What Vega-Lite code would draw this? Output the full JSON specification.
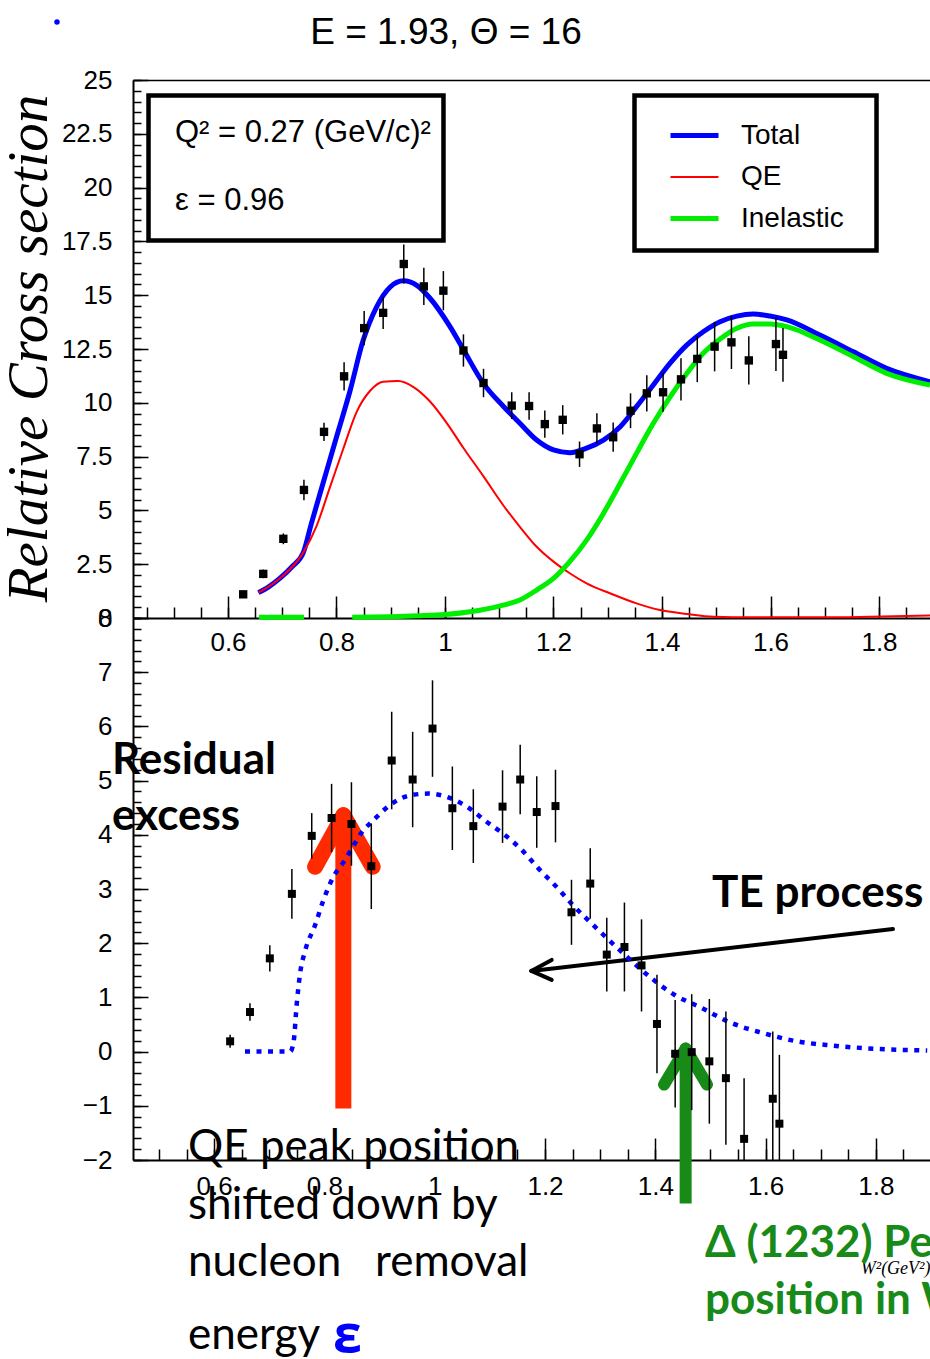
{
  "$schema": "https://vega.github.io/schema/vega-lite/v6.json",
  "width": 797,
  "height": 1080,
  "autosize": {"type": "none"},
  "padding": {"left": 133, "top": 80, "right": 0, "bottom": 199},
  "background": "white",
  "config": {
    "view": {"stroke": null},
    "axis": {"domainColor": "black", "tickColor": "black", "tickWidth": 1.5, "labelColor": "black", "labelFont": "Liberation Sans, Arial, sans-serif", "labelFontSize": 26, "grid": false, "titleColor": "black", "labelFlush": false, "labelOverlap": false}
  },
  "datasets": {
    "topPoints": [
      {"x": 0.628, "y": 1.10, "lo": 0.95, "hi": 1.25},
      {"x": 0.665, "y": 2.05, "lo": 1.85, "hi": 2.25},
      {"x": 0.702, "y": 3.68, "lo": 3.43, "hi": 3.93},
      {"x": 0.740, "y": 5.95, "lo": 5.47, "hi": 6.43},
      {"x": 0.777, "y": 8.65, "lo": 8.23, "hi": 9.07},
      {"x": 0.814, "y": 11.23, "lo": 10.57, "hi": 11.89},
      {"x": 0.851, "y": 13.47, "lo": 12.68, "hi": 14.26},
      {"x": 0.886, "y": 14.18, "lo": 13.43, "hi": 14.93},
      {"x": 0.924, "y": 16.45, "lo": 15.54, "hi": 17.36},
      {"x": 0.961, "y": 15.41, "lo": 14.54, "hi": 16.28},
      {"x": 0.997, "y": 15.21, "lo": 14.30, "hi": 16.12},
      {"x": 1.034, "y": 12.43, "lo": 11.68, "hi": 13.18},
      {"x": 1.071, "y": 10.92, "lo": 10.26, "hi": 11.58},
      {"x": 1.123, "y": 9.87, "lo": 9.25, "hi": 10.49},
      {"x": 1.155, "y": 9.85, "lo": 9.21, "hi": 10.49},
      {"x": 1.184, "y": 9.01, "lo": 8.38, "hi": 9.64},
      {"x": 1.217, "y": 9.21, "lo": 8.53, "hi": 9.89},
      {"x": 1.248, "y": 7.61, "lo": 7.02, "hi": 8.20},
      {"x": 1.280, "y": 8.81, "lo": 8.11, "hi": 9.51},
      {"x": 1.310, "y": 8.40, "lo": 7.72, "hi": 9.08},
      {"x": 1.342, "y": 9.63, "lo": 8.82, "hi": 10.44},
      {"x": 1.372, "y": 10.44, "lo": 9.60, "hi": 11.28},
      {"x": 1.402, "y": 10.49, "lo": 9.58, "hi": 11.40},
      {"x": 1.435, "y": 11.09, "lo": 10.11, "hi": 12.07},
      {"x": 1.465, "y": 12.04, "lo": 10.96, "hi": 13.12},
      {"x": 1.497, "y": 12.61, "lo": 11.46, "hi": 13.76},
      {"x": 1.528, "y": 12.81, "lo": 11.57, "hi": 14.05},
      {"x": 1.560, "y": 11.97, "lo": 10.85, "hi": 13.09},
      {"x": 1.610, "y": 12.73, "lo": 11.48, "hi": 13.98},
      {"x": 1.623, "y": 12.23, "lo": 10.98, "hi": 13.48}
    ],
    "topCurves": [
      {"series": "Total", "seg": "a", "x": 0.656, "y": 1.18},
      {"series": "Total", "seg": "a", "x": 0.675, "y": 1.45},
      {"series": "Total", "seg": "a", "x": 0.696, "y": 1.85},
      {"series": "Total", "seg": "a", "x": 0.718, "y": 2.38},
      {"series": "Total", "seg": "a", "x": 0.739, "y": 3.05},
      {"series": "Total", "seg": "a", "x": 0.754, "y": 4.42},
      {"series": "Total", "seg": "a", "x": 0.776, "y": 6.33},
      {"series": "Total", "seg": "a", "x": 0.800, "y": 8.41},
      {"series": "Total", "seg": "a", "x": 0.825, "y": 10.56},
      {"series": "Total", "seg": "a", "x": 0.849, "y": 12.89},
      {"series": "Total", "seg": "a", "x": 0.874, "y": 14.46},
      {"series": "Total", "seg": "a", "x": 0.899, "y": 15.38},
      {"series": "Total", "seg": "a", "x": 0.923, "y": 15.67},
      {"series": "Total", "seg": "a", "x": 0.948, "y": 15.46},
      {"series": "Total", "seg": "a", "x": 0.972, "y": 14.87},
      {"series": "Total", "seg": "a", "x": 1.009, "y": 13.55},
      {"series": "Total", "seg": "a", "x": 1.034, "y": 12.47},
      {"series": "Total", "seg": "a", "x": 1.071, "y": 10.89},
      {"series": "Total", "seg": "a", "x": 1.107, "y": 9.85},
      {"series": "Total", "seg": "a", "x": 1.138, "y": 9.05},
      {"series": "Total", "seg": "a", "x": 1.169, "y": 8.27},
      {"series": "Total", "seg": "a", "x": 1.200, "y": 7.81},
      {"series": "Total", "seg": "a", "x": 1.230, "y": 7.68},
      {"series": "Total", "seg": "a", "x": 1.261, "y": 7.89},
      {"series": "Total", "seg": "a", "x": 1.292, "y": 8.27},
      {"series": "Total", "seg": "a", "x": 1.323, "y": 8.89},
      {"series": "Total", "seg": "a", "x": 1.353, "y": 9.82},
      {"series": "Total", "seg": "a", "x": 1.384, "y": 10.83},
      {"series": "Total", "seg": "a", "x": 1.415, "y": 11.84},
      {"series": "Total", "seg": "a", "x": 1.446, "y": 12.69},
      {"series": "Total", "seg": "a", "x": 1.476, "y": 13.30},
      {"series": "Total", "seg": "a", "x": 1.507, "y": 13.77},
      {"series": "Total", "seg": "a", "x": 1.538, "y": 14.03},
      {"series": "Total", "seg": "a", "x": 1.568, "y": 14.13},
      {"series": "Total", "seg": "a", "x": 1.599, "y": 14.03},
      {"series": "Total", "seg": "a", "x": 1.630, "y": 13.85},
      {"series": "Total", "seg": "a", "x": 1.691, "y": 13.15},
      {"series": "Total", "seg": "a", "x": 1.753, "y": 12.37},
      {"series": "Total", "seg": "a", "x": 1.814, "y": 11.60},
      {"series": "Total", "seg": "a", "x": 1.894, "y": 10.98},
      {"series": "QE", "seg": "a", "x": 0.656, "y": 1.18},
      {"series": "QE", "seg": "a", "x": 0.696, "y": 1.85},
      {"series": "QE", "seg": "a", "x": 0.739, "y": 3.05},
      {"series": "QE", "seg": "a", "x": 0.763, "y": 4.26},
      {"series": "QE", "seg": "a", "x": 0.788, "y": 6.08},
      {"series": "QE", "seg": "a", "x": 0.813, "y": 7.90},
      {"series": "QE", "seg": "a", "x": 0.837, "y": 9.57},
      {"series": "QE", "seg": "a", "x": 0.862, "y": 10.56},
      {"series": "QE", "seg": "a", "x": 0.886, "y": 10.98},
      {"series": "QE", "seg": "a", "x": 0.914, "y": 11.01},
      {"series": "QE", "seg": "a", "x": 0.942, "y": 10.73},
      {"series": "QE", "seg": "a", "x": 0.972, "y": 10.07},
      {"series": "QE", "seg": "a", "x": 1.003, "y": 9.07},
      {"series": "QE", "seg": "a", "x": 1.034, "y": 7.90},
      {"series": "QE", "seg": "a", "x": 1.071, "y": 6.58},
      {"series": "QE", "seg": "a", "x": 1.107, "y": 5.25},
      {"series": "QE", "seg": "a", "x": 1.138, "y": 4.24},
      {"series": "QE", "seg": "a", "x": 1.169, "y": 3.31},
      {"series": "QE", "seg": "a", "x": 1.200, "y": 2.62},
      {"series": "QE", "seg": "a", "x": 1.230, "y": 2.08},
      {"series": "QE", "seg": "a", "x": 1.261, "y": 1.61},
      {"series": "QE", "seg": "a", "x": 1.304, "y": 1.15},
      {"series": "QE", "seg": "a", "x": 1.353, "y": 0.68},
      {"series": "QE", "seg": "a", "x": 1.396, "y": 0.37},
      {"series": "QE", "seg": "a", "x": 1.446, "y": 0.19},
      {"series": "QE", "seg": "a", "x": 1.495, "y": 0.06},
      {"series": "QE", "seg": "a", "x": 1.568, "y": 0.03},
      {"series": "QE", "seg": "a", "x": 1.691, "y": 0.03},
      {"series": "QE", "seg": "a", "x": 1.783, "y": 0.06},
      {"series": "QE", "seg": "a", "x": 1.894, "y": 0.12},
      {"series": "Inelastic", "seg": "a", "x": 0.657, "y": 0.03},
      {"series": "Inelastic", "seg": "a", "x": 0.740, "y": 0.03},
      {"series": "Inelastic", "seg": "b", "x": 0.829, "y": 0.03},
      {"series": "Inelastic", "seg": "b", "x": 0.900, "y": 0.06},
      {"series": "Inelastic", "seg": "b", "x": 0.950, "y": 0.10},
      {"series": "Inelastic", "seg": "b", "x": 1.000, "y": 0.16},
      {"series": "Inelastic", "seg": "b", "x": 1.050, "y": 0.30},
      {"series": "Inelastic", "seg": "b", "x": 1.100, "y": 0.55},
      {"series": "Inelastic", "seg": "b", "x": 1.138, "y": 0.84},
      {"series": "Inelastic", "seg": "b", "x": 1.169, "y": 1.30},
      {"series": "Inelastic", "seg": "b", "x": 1.200, "y": 1.84},
      {"series": "Inelastic", "seg": "b", "x": 1.230, "y": 2.62},
      {"series": "Inelastic", "seg": "b", "x": 1.261, "y": 3.62},
      {"series": "Inelastic", "seg": "b", "x": 1.292, "y": 4.86},
      {"series": "Inelastic", "seg": "b", "x": 1.323, "y": 6.26},
      {"series": "Inelastic", "seg": "b", "x": 1.353, "y": 7.65},
      {"series": "Inelastic", "seg": "b", "x": 1.384, "y": 9.05},
      {"series": "Inelastic", "seg": "b", "x": 1.415, "y": 10.28},
      {"series": "Inelastic", "seg": "b", "x": 1.446, "y": 11.37},
      {"series": "Inelastic", "seg": "b", "x": 1.476, "y": 12.30},
      {"series": "Inelastic", "seg": "b", "x": 1.507, "y": 12.96},
      {"series": "Inelastic", "seg": "b", "x": 1.538, "y": 13.46},
      {"series": "Inelastic", "seg": "b", "x": 1.568, "y": 13.66},
      {"series": "Inelastic", "seg": "b", "x": 1.599, "y": 13.66},
      {"series": "Inelastic", "seg": "b", "x": 1.630, "y": 13.54},
      {"series": "Inelastic", "seg": "b", "x": 1.691, "y": 12.92},
      {"series": "Inelastic", "seg": "b", "x": 1.753, "y": 12.14},
      {"series": "Inelastic", "seg": "b", "x": 1.814, "y": 11.37},
      {"series": "Inelastic", "seg": "b", "x": 1.894, "y": 10.83}
    ],
    "topBoxes": [
      {"box": "info", "x": 0.4535, "x2": 0.9972, "y": 24.28, "y2": 17.54},
      {"box": "legend", "x": 1.3493, "x2": 1.7954, "y": 24.28, "y2": 17.08}
    ],
    "topNotes": [
      {"kind": "title", "text": "E = 1.93, Θ = 16", "x": 1.0018, "y": 27.18},
      {"kind": "box", "text": "Q² = 0.27 (GeV/c)²", "x": 0.5023, "y": 22.54},
      {"kind": "box", "text": "ε = 0.96", "x": 0.5023, "y": 19.38},
      {"kind": "dot", "text": "", "x": 0.2848, "y": 27.70}
    ],
    "botPoints": [
      {"x": 0.629, "y": 0.19, "lo": 0.07, "hi": 0.31},
      {"x": 0.665, "y": 0.73, "lo": 0.57, "hi": 0.89},
      {"x": 0.701, "y": 1.72, "lo": 1.48, "hi": 1.96},
      {"x": 0.741, "y": 2.91, "lo": 2.45, "hi": 3.37},
      {"x": 0.777, "y": 3.98, "lo": 3.56, "hi": 4.40},
      {"x": 0.813, "y": 4.31, "lo": 3.68, "hi": 4.94},
      {"x": 0.849, "y": 4.20, "lo": 3.43, "hi": 4.97},
      {"x": 0.885, "y": 3.42, "lo": 2.63, "hi": 4.21},
      {"x": 0.922, "y": 5.37, "lo": 4.47, "hi": 6.27},
      {"x": 0.960, "y": 5.02, "lo": 4.14, "hi": 5.90},
      {"x": 0.996, "y": 5.96, "lo": 5.07, "hi": 6.85},
      {"x": 1.032, "y": 4.49, "lo": 3.72, "hi": 5.26},
      {"x": 1.070, "y": 4.16, "lo": 3.48, "hi": 4.84},
      {"x": 1.123, "y": 4.52, "lo": 3.85, "hi": 5.19},
      {"x": 1.155, "y": 5.02, "lo": 4.38, "hi": 5.66},
      {"x": 1.185, "y": 4.42, "lo": 3.76, "hi": 5.08},
      {"x": 1.219, "y": 4.53, "lo": 3.86, "hi": 5.20},
      {"x": 1.248, "y": 2.57, "lo": 1.97, "hi": 3.17},
      {"x": 1.282, "y": 3.10, "lo": 2.45, "hi": 3.75},
      {"x": 1.312, "y": 1.79, "lo": 1.11, "hi": 2.47},
      {"x": 1.344, "y": 1.93, "lo": 1.11, "hi": 2.75},
      {"x": 1.375, "y": 1.59, "lo": 0.74, "hi": 2.44},
      {"x": 1.403, "y": 0.51, "lo": -0.40, "hi": 1.42},
      {"x": 1.436, "y": -0.04, "lo": -1.03, "hi": 0.95},
      {"x": 1.466, "y": -0.01, "lo": -1.08, "hi": 1.06},
      {"x": 1.498, "y": -0.18, "lo": -1.33, "hi": 0.97},
      {"x": 1.528, "y": -0.49, "lo": -1.72, "hi": 0.74},
      {"x": 1.561, "y": -1.61, "lo": -2.0, "hi": -0.49},
      {"x": 1.613, "y": -0.87, "lo": -2.0, "hi": 0.37},
      {"x": 1.625, "y": -1.33, "lo": -2.0, "hi": -0.06}
    ],
    "botCurve": [
      {"x": 0.656, "y": 0}, {"x": 0.700, "y": 0}, {"x": 0.738, "y": 0},
      {"x": 0.744, "y": 0.17}, {"x": 0.750, "y": 0.90}, {"x": 0.756, "y": 1.45},
      {"x": 0.765, "y": 1.86}, {"x": 0.783, "y": 2.33}, {"x": 0.798, "y": 2.79},
      {"x": 0.816, "y": 3.22}, {"x": 0.835, "y": 3.50}, {"x": 0.850, "y": 3.75},
      {"x": 0.868, "y": 4.05}, {"x": 0.888, "y": 4.26}, {"x": 0.919, "y": 4.55},
      {"x": 0.956, "y": 4.73}, {"x": 0.989, "y": 4.76}, {"x": 1.022, "y": 4.70},
      {"x": 1.058, "y": 4.52}, {"x": 1.094, "y": 4.24}, {"x": 1.124, "y": 4.02},
      {"x": 1.158, "y": 3.72}, {"x": 1.188, "y": 3.38}, {"x": 1.218, "y": 3.07},
      {"x": 1.248, "y": 2.73}, {"x": 1.294, "y": 2.27}, {"x": 1.342, "y": 1.81},
      {"x": 1.391, "y": 1.37}, {"x": 1.436, "y": 1.04}, {"x": 1.481, "y": 0.82},
      {"x": 1.535, "y": 0.54}, {"x": 1.596, "y": 0.34}, {"x": 1.651, "y": 0.20},
      {"x": 1.723, "y": 0.11}, {"x": 1.802, "y": 0.05}, {"x": 1.893, "y": 0.02}
    ],
    "arrows": [
      {"arrow": "red", "part": "shaft", "x": 0.8343, "y": -1.052, "x2": 0.8343, "y2": 4.2},
      {"arrow": "red", "part": "arm", "x": 0.8343, "y": 4.36, "x2": 0.783, "y2": 3.41},
      {"arrow": "red", "part": "arm", "x": 0.8343, "y": 4.36, "x2": 0.8875, "y2": 3.41},
      {"arrow": "green", "part": "shaft", "x": 1.455, "y": -2.804, "x2": 1.455, "y2": 0.0},
      {"arrow": "green", "part": "arm", "x": 1.455, "y": 0.055, "x2": 1.4158, "y2": -0.609},
      {"arrow": "green", "part": "arm", "x": 1.455, "y": 0.055, "x2": 1.4937, "y2": -0.609},
      {"arrow": "black", "part": "shaft", "x": 1.831, "y": 2.26, "x2": 1.1752, "y2": 1.489},
      {"arrow": "black", "part": "arm", "x": 1.1752, "y": 1.489, "x2": 1.2121, "y2": 1.692},
      {"arrow": "black", "part": "arm", "x": 1.1752, "y": 1.489, "x2": 1.2121, "y2": 1.323}
    ],
    "botNotes": [
      {"kind": "bold", "text": "Residual", "x": 0.4149, "y": 5.37},
      {"kind": "bold", "text": "excess", "x": 0.4149, "y": 4.32},
      {"kind": "bold", "text": "TE process", "x": 1.5028, "y": 2.915},
      {"kind": "plain", "text": "QE peak position", "x": 0.5527, "y": -1.771},
      {"kind": "plain", "text": "shifted down by", "x": 0.5527, "y": -2.841},
      {"kind": "plain", "text": "nucleon\u00a0\u00a0\u00a0removal", "x": 0.5527, "y": -3.893},
      {"kind": "plain", "text": "energy", "x": 0.5527, "y": -5.24},
      {"kind": "eps", "text": "ε", "x": 0.8156, "y": -5.24},
      {"kind": "green", "text": "Δ (1232) Peak", "x": 1.4901, "y": -3.542},
      {"kind": "green", "text": "position in W", "x": 1.4901, "y": -4.594}
    ]
  },
  "layer": [
    {
      "encoding": {
        "x": {"field": "x", "type": "quantitative", "scale": {"domain": [0.4249, 1.894], "nice": false, "zero": false}, "axis": null},
        "y": {"field": "y", "type": "quantitative", "scale": {"domain": [0, 25], "range": [538, 0], "nice": false, "zero": false}, "axis": null}
      },
      "layer": [
        {
          "data": {"name": "topBoxes"},
          "mark": {"type": "rect", "fill": "white", "stroke": "black", "strokeWidth": 4.5},
          "encoding": {"x2": {"field": "x2"}, "y2": {"field": "y2"}}
        },
        {
          "data": {"name": "topCurves"},
          "mark": {"type": "line", "interpolate": "monotone"},
          "encoding": {
            "x": {"field": "x", "type": "quantitative", "scale": {"domain": [0.4249, 1.894], "nice": false, "zero": false},
              "axis": {"orient": "bottom", "offset": -542, "values": [0.6, 0.8, 1, 1.2, 1.4, 1.6, 1.8], "format": ".2~g", "tickSize": -22, "labelPadding": 33, "title": null, "domainWidth": 2}},
            "y": {"field": "y", "type": "quantitative", "scale": {"domain": [0, 25], "range": [538, 0], "nice": false, "zero": false},
              "axis": {"orient": "left", "values": [0, 2.5, 5, 7.5, 10, 12.5, 15, 17.5, 20, 22.5, 25], "format": ".3~g", "tickSize": -15, "labelPadding": 36, "domainWidth": 2,
                "title": "Relative Cross section", "titleFont": "Liberation Serif", "titleFontStyle": "italic", "titleFontWeight": "normal", "titleFontSize": 57, "titleX": -87, "titleY": 268, "titleAngle": 270, "titleAlign": "center", "titleBaseline": "alphabetic"}},
            "color": {"field": "series", "type": "nominal", "scale": {"domain": ["Total", "QE", "Inelastic"], "range": ["#0000ff", "#ff0000", "#00ee00"]},
              "legend": {"orient": "none", "legendX": 547, "legendY": 41, "title": null, "symbolType": "M-2,0H2", "symbolSize": 576, "symbolFillColor": "transparent", "labelFont": "Liberation Sans, Arial, sans-serif", "labelFontSize": 28, "labelColor": "black", "labelOffset": 32, "rowPadding": 13, "padding": 0}},
            "strokeWidth": {"field": "series", "type": "nominal", "scale": {"type": "ordinal", "domain": ["Total", "QE", "Inelastic"], "range": [5, 2, 5]},
              "legend": {"orient": "none", "legendX": 547, "legendY": 41, "title": null, "symbolType": "M-2,0H2", "symbolSize": 576, "symbolFillColor": "transparent", "labelFont": "Liberation Sans, Arial, sans-serif", "labelFontSize": 28, "labelColor": "black", "labelOffset": 32, "rowPadding": 13, "padding": 0}},
            "detail": {"field": "seg"}
          }
        },
        {
          "data": {"name": "topPoints"},
          "mark": {"type": "rule", "color": "black", "strokeWidth": 1.5},
          "encoding": {
            "x": {"field": "x", "type": "quantitative", "scale": {"domain": [0.4249, 1.894], "nice": false, "zero": false},
              "axis": {"orient": "bottom", "offset": -542, "values": [0.45, 0.5, 0.55, 0.6, 0.65, 0.7, 0.75, 0.8, 0.85, 0.9, 0.95, 1, 1.05, 1.1, 1.15, 1.2, 1.25, 1.3, 1.35, 1.4, 1.45, 1.5, 1.55, 1.6, 1.65, 1.7, 1.75, 1.8, 1.85], "tickSize": -11, "labels": false, "domain": false, "title": null}},
            "y": {"field": "lo", "type": "quantitative", "scale": {"domain": [0, 25], "range": [538, 0], "nice": false, "zero": false},
              "axis": {"orient": "left", "values": [0, 0.5, 1, 1.5, 2, 2.5, 3, 3.5, 4, 4.5, 5, 5.5, 6, 6.5, 7, 7.5, 8, 8.5, 9, 9.5, 10, 10.5, 11, 11.5, 12, 12.5, 13, 13.5, 14, 14.5, 15, 15.5, 16, 16.5, 17, 17.5, 18, 18.5, 19, 19.5, 20, 20.5, 21, 21.5, 22, 22.5, 23, 23.5, 24, 24.5, 25], "tickSize": -8, "labels": false, "domain": false, "title": null}},
            "y2": {"field": "hi"}
          }
        },
        {
          "data": {"name": "topPoints"},
          "mark": {"type": "square", "filled": true, "color": "black", "size": 70, "opacity": 1},
          "encoding": {
            "x": {"field": "x", "type": "quantitative", "scale": {"domain": [0.4249, 1.894], "nice": false, "zero": false},
              "axis": {"orient": "top", "ticks": false, "labels": false, "domain": true, "domainWidth": 1.5, "title": null}}
          }
        },
        {
          "data": {"name": "topNotes"},
          "transform": [{"filter": "datum.kind === 'title'"}],
          "mark": {"type": "text", "font": "Liberation Sans, Arial, sans-serif", "fontSize": 37, "align": "center", "baseline": "middle", "color": "black"},
          "encoding": {"text": {"field": "text"}}
        },
        {
          "data": {"name": "topNotes"},
          "transform": [{"filter": "datum.kind === 'box'"}],
          "mark": {"type": "text", "font": "Liberation Sans, Arial, sans-serif", "fontSize": 31, "align": "left", "baseline": "middle", "color": "black"},
          "encoding": {"text": {"field": "text"}}
        },
        {
          "data": {"name": "topNotes"},
          "transform": [{"filter": "datum.kind === 'dot'"}],
          "mark": {"type": "circle", "color": "#0000ff", "size": 30, "opacity": 1}
        }
      ],
      "resolve": {"axis": {"x": "independent", "y": "independent"}}
    },
    {
      "encoding": {
        "x": {"field": "x", "type": "quantitative", "scale": {"domain": [0.4529, 1.8981], "nice": false, "zero": false}, "axis": null},
        "y": {"field": "y", "type": "quantitative", "scale": {"domain": [-2, 8], "range": [1080, 538], "nice": false, "zero": false}, "axis": null}
      },
      "layer": [
        {
          "data": {"name": "arrows"},
          "transform": [{"filter": "datum.arrow === 'red' && datum.part === 'shaft'"}],
          "mark": {"type": "rule", "color": "#ff2a00", "strokeWidth": 16, "strokeCap": "butt"},
          "encoding": {"x2": {"field": "x2"}, "y2": {"field": "y2"}}
        },
        {
          "data": {"name": "arrows"},
          "transform": [{"filter": "datum.arrow === 'red' && datum.part === 'arm'"}],
          "mark": {"type": "rule", "color": "#ff2a00", "strokeWidth": 16, "strokeCap": "round"},
          "encoding": {"x2": {"field": "x2"}, "y2": {"field": "y2"}}
        },
        {
          "data": {"name": "arrows"},
          "transform": [{"filter": "datum.arrow === 'green' && datum.part === 'shaft'"}],
          "mark": {"type": "rule", "color": "#178a17", "strokeWidth": 12, "strokeCap": "butt"},
          "encoding": {"x2": {"field": "x2"}, "y2": {"field": "y2"}}
        },
        {
          "data": {"name": "arrows"},
          "transform": [{"filter": "datum.arrow === 'green' && datum.part === 'arm'"}],
          "mark": {"type": "rule", "color": "#178a17", "strokeWidth": 12, "strokeCap": "round"},
          "encoding": {"x2": {"field": "x2"}, "y2": {"field": "y2"}}
        },
        {
          "data": {"name": "arrows"},
          "transform": [{"filter": "datum.arrow === 'black'"}],
          "mark": {"type": "rule", "color": "black", "strokeWidth": 4, "strokeCap": "round"},
          "encoding": {"x2": {"field": "x2"}, "y2": {"field": "y2"}}
        },
        {
          "data": {"name": "botCurve"},
          "mark": {"type": "line", "color": "#0000ff", "strokeWidth": 4.5, "strokeDash": [5, 6.5], "interpolate": "monotone"},
          "encoding": {
            "x": {"field": "x", "type": "quantitative", "scale": {"domain": [0.4529, 1.8981], "nice": false, "zero": false},
              "axis": {"orient": "bottom", "values": [0.6, 0.8, 1, 1.2, 1.4, 1.6, 1.8], "format": ".2~g", "tickSize": -22, "labelPadding": 35, "domainWidth": 2,
                "title": "W²(GeV²)", "titleFont": "Liberation Serif", "titleFontStyle": "italic", "titleFontWeight": "normal", "titleFontSize": 18, "titleX": 797, "titleY": 108, "titleAlign": "right", "titleBaseline": "middle", "titleAngle": 0}},
            "y": {"field": "y", "type": "quantitative", "scale": {"domain": [-2, 8], "range": [1080, 538], "nice": false, "zero": false},
              "axis": {"orient": "left", "values": [-2, -1, 0, 1, 2, 3, 4, 5, 6, 7, 8], "format": ".2~g", "tickSize": -15, "labelPadding": 36, "domainWidth": 2, "title": null}}
          }
        },
        {
          "data": {"name": "botPoints"},
          "mark": {"type": "rule", "color": "black", "strokeWidth": 1.5},
          "encoding": {
            "x": {"field": "x", "type": "quantitative", "scale": {"domain": [0.4529, 1.8981], "nice": false, "zero": false},
              "axis": {"orient": "bottom", "values": [0.5, 0.55, 0.6, 0.65, 0.7, 0.75, 0.8, 0.85, 0.9, 0.95, 1, 1.05, 1.1, 1.15, 1.2, 1.25, 1.3, 1.35, 1.4, 1.45, 1.5, 1.55, 1.6, 1.65, 1.7, 1.75, 1.8, 1.85], "tickSize": -11, "labels": false, "domain": false, "title": null}},
            "y": {"field": "lo", "type": "quantitative", "scale": {"domain": [-2, 8], "range": [1080, 538], "nice": false, "zero": false},
              "axis": {"orient": "left", "values": [-2, -1.8, -1.6, -1.4, -1.2, -1, -0.8, -0.6, -0.4, -0.2, 0, 0.2, 0.4, 0.6, 0.8, 1, 1.2, 1.4, 1.6, 1.8, 2, 2.2, 2.4, 2.6, 2.8, 3, 3.2, 3.4, 3.6, 3.8, 4, 4.2, 4.4, 4.6, 4.8, 5, 5.2, 5.4, 5.6, 5.8, 6, 6.2, 6.4, 6.6, 6.8, 7, 7.2, 7.4, 7.6, 7.8, 8], "tickSize": -8, "labels": false, "domain": false, "title": null}},
            "y2": {"field": "hi"}
          }
        },
        {
          "data": {"name": "botPoints"},
          "mark": {"type": "square", "filled": true, "color": "black", "size": 64, "opacity": 1}
        },
        {
          "data": {"name": "botNotes"},
          "transform": [{"filter": "datum.kind === 'bold'"}],
          "mark": {"type": "text", "font": "Lato, Open Sans, sans-serif", "fontSize": 44, "fontWeight": "bold", "align": "left", "baseline": "middle", "color": "black"},
          "encoding": {"text": {"field": "text"}}
        },
        {
          "data": {"name": "botNotes"},
          "transform": [{"filter": "datum.kind === 'plain'"}],
          "mark": {"type": "text", "font": "Lato, Open Sans, sans-serif", "fontSize": 44, "align": "left", "baseline": "middle", "color": "black"},
          "encoding": {"text": {"field": "text"}}
        },
        {
          "data": {"name": "botNotes"},
          "transform": [{"filter": "datum.kind === 'eps'"}],
          "mark": {"type": "text", "font": "Open Sans, sans-serif", "fontSize": 52, "fontWeight": "bold", "align": "left", "baseline": "middle", "color": "#0000ff"},
          "encoding": {"text": {"field": "text"}}
        },
        {
          "data": {"name": "botNotes"},
          "transform": [{"filter": "datum.kind === 'green'"}],
          "mark": {"type": "text", "font": "Lato, Open Sans, sans-serif", "fontSize": 44, "fontWeight": "bold", "align": "left", "baseline": "middle", "color": "#178a17"},
          "encoding": {"text": {"field": "text"}}
        }
      ],
      "resolve": {"axis": {"x": "independent", "y": "independent"}}
    }
  ],
  "resolve": {"scale": {"x": "independent", "y": "independent"}, "axis": {"x": "independent", "y": "independent"}}
}
